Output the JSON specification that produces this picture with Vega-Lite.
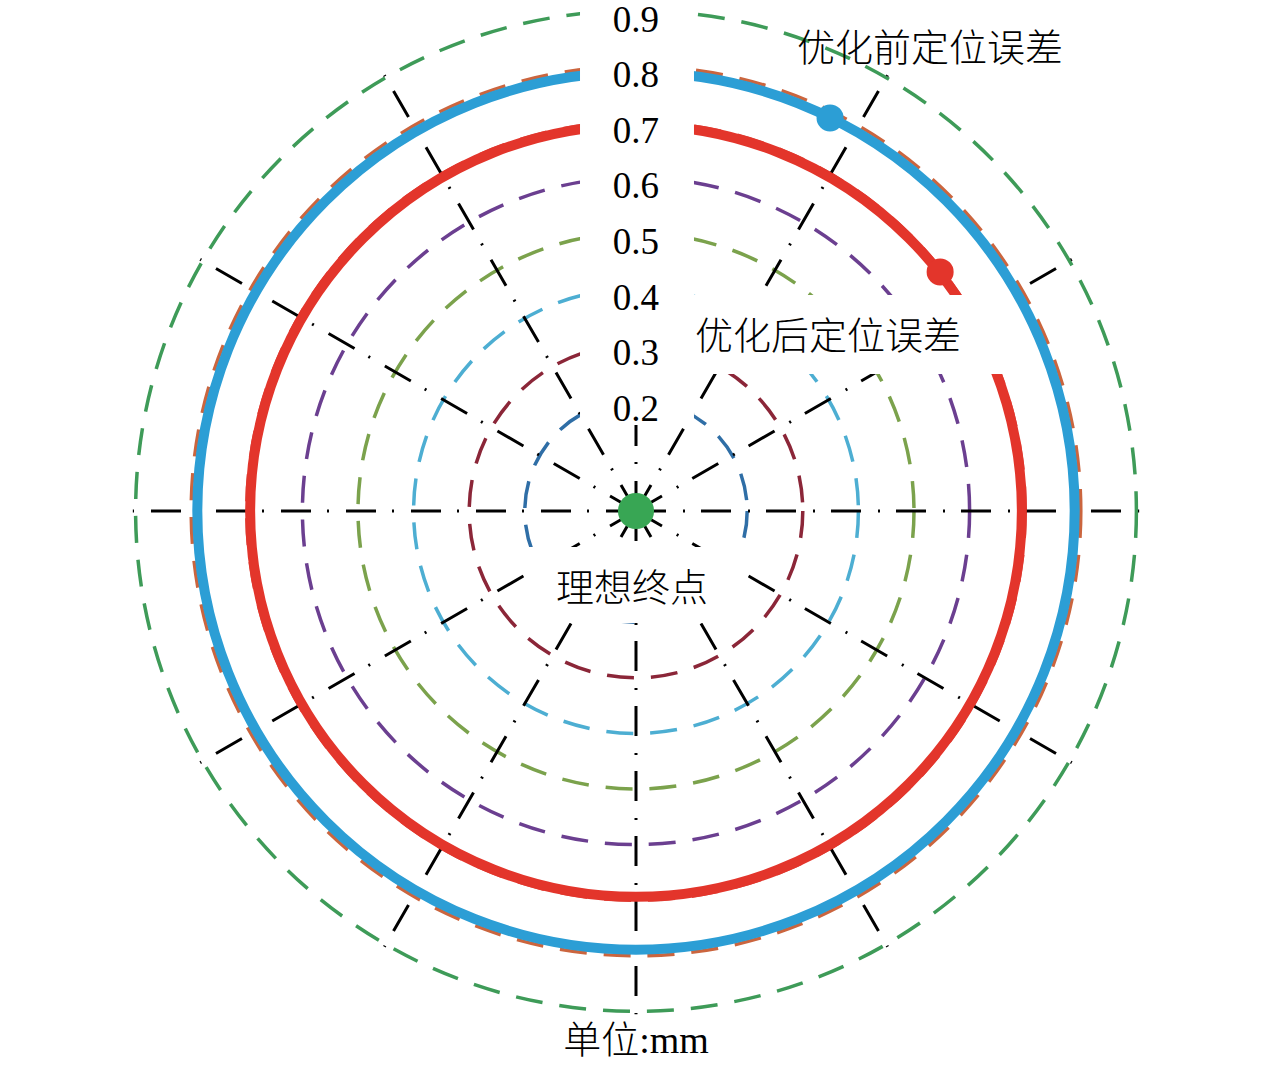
{
  "$schema": "https://vega.github.io/schema/vega-lite/v6.json",
  "width": 1276,
  "height": 1071,
  "padding": 0,
  "autosize": {"type": "none"},
  "background": "white",
  "config": {"view": {"stroke": null}},
  "datasets": {
    "rings": [
      {"ring": "0.2", "r": 0.2, "cx": 0, "cy": 0},
      {"ring": "0.3", "r": 0.3, "cx": 0, "cy": 0},
      {"ring": "0.4", "r": 0.4, "cx": 0, "cy": 0},
      {"ring": "0.5", "r": 0.5, "cx": 0, "cy": 0},
      {"ring": "0.6", "r": 0.6, "cx": 0, "cy": 0},
      {"ring": "0.7", "r": 0.7, "cx": 0, "cy": 0},
      {"ring": "0.8", "r": 0.8, "cx": 0, "cy": 0},
      {"ring": "0.9", "r": 0.9, "cx": 0, "cy": 0}
    ],
    "errors": [
      {"name": "优化前定位误差", "r": 0.789, "cx": 0, "cy": 0},
      {"name": "优化后定位误差", "r": 0.694, "cx": 0, "cy": 0}
    ],
    "spokes": [
      {"angle": 0, "sx": 0, "sy": 0, "ex": 0.905, "ey": 0},
      {"angle": 30, "sx": 0, "sy": 0, "ex": 0.7838, "ey": 0.4525},
      {"angle": 60, "sx": 0, "sy": 0, "ex": 0.4525, "ey": 0.7838},
      {"angle": 90, "sx": 0, "sy": 0, "ex": 0, "ey": 0.905},
      {"angle": 120, "sx": 0, "sy": 0, "ex": -0.4525, "ey": 0.7838},
      {"angle": 150, "sx": 0, "sy": 0, "ex": -0.7838, "ey": 0.4525},
      {"angle": 180, "sx": 0, "sy": 0, "ex": -0.905, "ey": 0},
      {"angle": 210, "sx": 0, "sy": 0, "ex": -0.7838, "ey": -0.4525},
      {"angle": 240, "sx": 0, "sy": 0, "ex": -0.4525, "ey": -0.7838},
      {"angle": 270, "sx": 0, "sy": 0, "ex": 0, "ey": -0.905},
      {"angle": 300, "sx": 0, "sy": 0, "ex": 0.4525, "ey": -0.7838},
      {"angle": 330, "sx": 0, "sy": 0, "ex": 0.7838, "ey": -0.4525}
    ],
    "boxes": [
      {"box": "scale labels", "bx1": -0.1007, "bx2": 0.1043, "by1": 0.93, "by2": 0.1547},
      {"box": "优化后定位误差", "bx1": 0.0971, "bx2": 0.6727, "by1": 0.3885, "by2": 0.2464},
      {"box": "理想终点", "bx1": -0.1996, "bx2": 0.2014, "by1": -0.0647, "by2": -0.2014}
    ],
    "labels": [
      {"label": "优化前定位误差", "lx": 0.5288, "ly": 0.8291},
      {"label": "优化后定位误差", "lx": 0.3453, "ly": 0.3112},
      {"label": "理想终点", "lx": -0.0072, "ly": -0.1421},
      {"label": "单位:mm", "lx": 0, "ly": -0.955}
    ],
    "points": [
      {"name": "优化前定位误差", "px": 0.349, "py": 0.707},
      {"name": "优化后定位误差", "px": 0.547, "py": 0.43}
    ],
    "center": [
      {"name": "理想终点", "px": 0, "py": 0}
    ]
  },
  "layer": [
    {
      "data": {"name": "rings"},
      "mark": {"type": "point", "shape": "circle", "filled": false, "opacity": 1, "strokeWidth": 3.5, "strokeDash": [27, 17]},
      "encoding": {
        "x": {"field": "cx", "type": "quantitative", "scale": {"domain": [-1.14388, 1.15108], "nice": false, "zero": false}, "axis": null},
        "y": {"field": "cy", "type": "quantitative", "scale": {"domain": [-1.00719, 0.91906], "nice": false, "zero": false}, "axis": null},
        "size": {"field": "r", "type": "quantitative", "legend": null, "scale": {"type": "pow", "exponent": 2, "domain": [0, 1], "range": [0, 1236544], "zero": true}},
        "color": {
          "field": "ring", "type": "nominal", "legend": null,
          "scale": {
            "domain": ["0.2", "0.3", "0.4", "0.5", "0.6", "0.7", "0.8", "0.9", "优化前定位误差", "优化后定位误差", "理想终点"],
            "range": ["#2f6ea6", "#8b2638", "#4daed2", "#7ba24c", "#6b3f90", "#d9453b", "#cb653e", "#3e9b58", "#2c9ed5", "#e3352b", "#38a654"]
          }
        }
      }
    },
    {
      "data": {"name": "spokes"},
      "mark": {"type": "rule", "color": "black", "strokeWidth": 3, "strokeDash": [30, 17, 2, 16]},
      "encoding": {
        "x": {"field": "sx", "type": "quantitative", "scale": {"domain": [-1.14388, 1.15108], "nice": false, "zero": false}, "axis": null},
        "y": {"field": "sy", "type": "quantitative", "scale": {"domain": [-1.00719, 0.91906], "nice": false, "zero": false}, "axis": null},
        "x2": {"field": "ex"},
        "y2": {"field": "ey"}
      }
    },
    {
      "data": {"name": "errors"},
      "mark": {"type": "point", "shape": "circle", "filled": false, "opacity": 1, "strokeWidth": 10},
      "encoding": {
        "x": {"field": "cx", "type": "quantitative", "scale": {"domain": [-1.14388, 1.15108], "nice": false, "zero": false}, "axis": null},
        "y": {"field": "cy", "type": "quantitative", "scale": {"domain": [-1.00719, 0.91906], "nice": false, "zero": false}, "axis": null},
        "size": {"field": "r", "type": "quantitative", "legend": null, "scale": {"type": "pow", "exponent": 2, "domain": [0, 1], "range": [0, 1236544], "zero": true}},
        "color": {"field": "name", "type": "nominal", "legend": null}
      }
    },
    {
      "data": {"name": "center"},
      "mark": {"type": "point", "shape": "circle", "filled": true, "opacity": 1, "size": 1300},
      "encoding": {
        "x": {"field": "px", "type": "quantitative", "scale": {"domain": [-1.14388, 1.15108], "nice": false, "zero": false}, "axis": null},
        "y": {"field": "py", "type": "quantitative", "scale": {"domain": [-1.00719, 0.91906], "nice": false, "zero": false}, "axis": null},
        "color": {"field": "name", "type": "nominal", "legend": null}
      }
    },
    {
      "data": {"name": "boxes"},
      "mark": {"type": "rect", "color": "white", "opacity": 1},
      "encoding": {
        "x": {"field": "bx1", "type": "quantitative", "scale": {"domain": [-1.14388, 1.15108], "nice": false, "zero": false}, "axis": null},
        "x2": {"field": "bx2"},
        "y": {"field": "by1", "type": "quantitative", "scale": {"domain": [-1.00719, 0.91906], "nice": false, "zero": false}, "axis": null},
        "y2": {"field": "by2"}
      }
    },
    {
      "data": {"name": "rings"},
      "mark": {"type": "text", "font": "Liberation Serif", "fontSize": 37, "baseline": "alphabetic", "align": "center", "dy": 21, "color": "black"},
      "encoding": {
        "x": {"field": "cx", "type": "quantitative", "scale": {"domain": [-1.14388, 1.15108], "nice": false, "zero": false}, "axis": null},
        "y": {"field": "r", "type": "quantitative", "scale": {"domain": [-1.00719, 0.91906], "nice": false, "zero": false}, "axis": null},
        "text": {"field": "ring"}
      }
    },
    {
      "data": {"name": "labels"},
      "mark": {"type": "text", "font": "'Liberation Serif', 'Noto Sans CJK SC'", "fontSize": 38, "fontWeight": 300, "baseline": "middle", "align": "center", "color": "black"},
      "encoding": {
        "x": {"field": "lx", "type": "quantitative", "scale": {"domain": [-1.14388, 1.15108], "nice": false, "zero": false}, "axis": null},
        "y": {"field": "ly", "type": "quantitative", "scale": {"domain": [-1.00719, 0.91906], "nice": false, "zero": false}, "axis": null},
        "text": {"field": "label"}
      }
    },
    {
      "data": {"name": "points"},
      "mark": {"type": "point", "shape": "circle", "filled": true, "opacity": 1, "size": 730},
      "encoding": {
        "x": {"field": "px", "type": "quantitative", "scale": {"domain": [-1.14388, 1.15108], "nice": false, "zero": false}, "axis": null},
        "y": {"field": "py", "type": "quantitative", "scale": {"domain": [-1.00719, 0.91906], "nice": false, "zero": false}, "axis": null},
        "color": {"field": "name", "type": "nominal", "legend": null}
      }
    }
  ]
}
